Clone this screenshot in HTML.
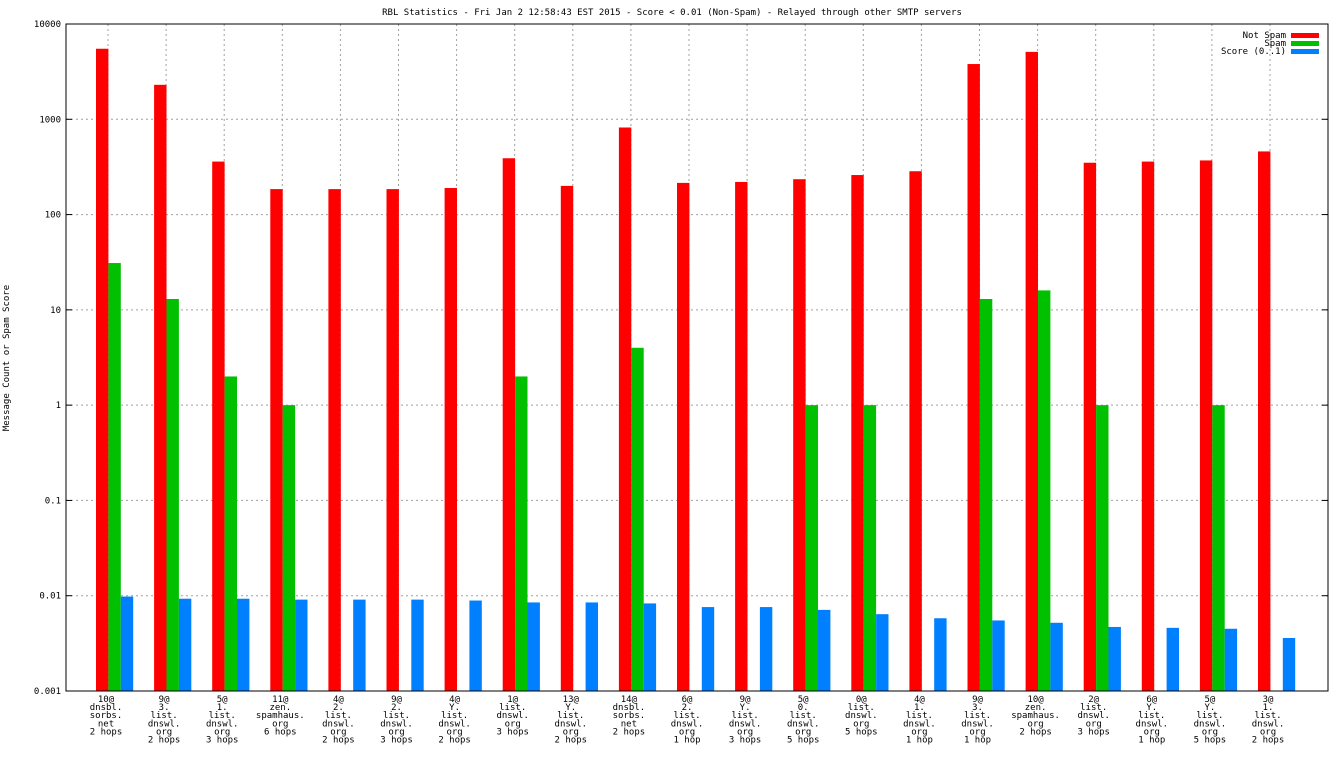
<!DOCTYPE html>
<html><head><meta charset="utf-8"><style>
body{margin:0;background:#fff;}
svg text{font-family:"DejaVu Sans Mono","Liberation Mono",monospace;font-size:9px;fill:#000;}
</style></head><body>
<svg id="c" width="1344" height="756"></svg>
<script>
const categories=[["10@","dnsbl.","sorbs.","net","2 hops"],["9@","3.","list.","dnswl.","org","2 hops"],["5@","1.","list.","dnswl.","org","3 hops"],["11@","zen.","spamhaus.","org","6 hops"],["4@","2.","list.","dnswl.","org","2 hops"],["9@","2.","list.","dnswl.","org","3 hops"],["4@","Y.","list.","dnswl.","org","2 hops"],["1@","list.","dnswl.","org","3 hops"],["13@","Y.","list.","dnswl.","org","2 hops"],["14@","dnsbl.","sorbs.","net","2 hops"],["6@","2.","list.","dnswl.","org","1 hop"],["9@","Y.","list.","dnswl.","org","3 hops"],["5@","0.","list.","dnswl.","org","5 hops"],["0@","list.","dnswl.","org","5 hops"],["4@","1.","list.","dnswl.","org","1 hop"],["9@","3.","list.","dnswl.","org","1 hop"],["10@","zen.","spamhaus.","org","2 hops"],["2@","list.","dnswl.","org","3 hops"],["6@","Y.","list.","dnswl.","org","1 hop"],["5@","Y.","list.","dnswl.","org","5 hops"],["3@","1.","list.","dnswl.","org","2 hops"]];
const notSpam=[5500,2300,360,185,185,185,190,390,200,820,215,220,235,260,285,3800,5100,350,360,370,460];
const spam=[31,13,2,1,0,0,0,2,0,4,0,0,1,1,0,13,16,1,0,1,0];
const score=[0.0098,0.0093,0.0093,0.0091,0.0091,0.0091,0.0089,0.0085,0.0085,0.0083,0.0076,0.0076,0.0071,0.0064,0.0058,0.0055,0.0052,0.0047,0.0046,0.0045,0.0036];
const yTicks=[0.001,0.01,0.1,1,10,100,1000,10000];
const yTickLabels=["0.001","0.01","0.1","1","10","100","1000","10000"];
const NS="http://www.w3.org/2000/svg",svg=document.getElementById('c');
const L=66,R=1328,T=24,B=691;
function y(v){return B-(Math.log10(v)+3)/7*(B-T);}
const first=108,last=1270;
function xc(i){return first+(last-first)/(categories.length-1)*i;}
function mk(t,a){const e=document.createElementNS(NS,t);for(const k in a)e.setAttribute(k,a[k]);svg.appendChild(e);return e;}
let e;
e=mk('text',{x:672,y:15,'text-anchor':'middle','font-size':'8'});e.textContent='RBL Statistics - Fri Jan  2 12:58:43 EST 2015 - Score < 0.01 (Non-Spam) - Relayed through other SMTP servers';

yTicks.forEach((v,i)=>{const yy=y(v);
 if(i>0&&i<yTicks.length-1){e=mk('line',{x1:L,x2:R,y1:yy,y2:yy,stroke:'#a0a0a0','stroke-dasharray':'2,3'});}
 mk('line',{x1:L,x2:L+6,y1:yy,y2:yy,stroke:'#000'});mk('line',{x1:R-6,x2:R,y1:yy,y2:yy,stroke:'#000'});
 e=mk('text',{x:L-5,y:yy+3,'text-anchor':'end','font-size':'8'});e.textContent=yTickLabels[i];
 });
categories.forEach((c,i)=>{const x=xc(i);
 e=mk('line',{x1:x,x2:x,y1:T,y2:B,stroke:'#a0a0a0','stroke-dasharray':'2,3'});
 const w=12.4,x0=x-12;
 [[notSpam[i],'#ff0000','bar-not-spam'],[spam[i],'#00c000','bar-spam'],[score[i],'#0080ff','bar-score']].forEach((s,k)=>{
  if(s[0]>0){const yy=y(s[0]);e=mk('rect',{x:x0+k*w,y:yy,width:w,height:B-yy,fill:s[1]});
  }});
 c.forEach((ln,j)=>{e=mk('text',{x:x-2,y:702+j*8.1,'text-anchor':'middle','font-size':'8'});e.textContent=ln;
  });
});
e=mk('rect',{x:L,y:T,width:R-L,height:B-T,fill:'none',stroke:'#000'});
e=mk('text',{x:9,y:358,'text-anchor':'middle','font-size':'8',transform:'rotate(-90 9 358)'});e.textContent='Message Count or Spam Score';

[['Not Spam','#ff0000'],['Spam','#00c000'],['Score (0..1)','#0080ff']].forEach((l,i)=>{const yy=35+i*8;
 e=mk('text',{x:1286,y:yy+3,'text-anchor':'end','font-size':'8'});e.textContent=l[0];
 e=mk('rect',{x:1291,y:yy-2,width:28,height:5,fill:l[1]});});
</script>
</body></html>
